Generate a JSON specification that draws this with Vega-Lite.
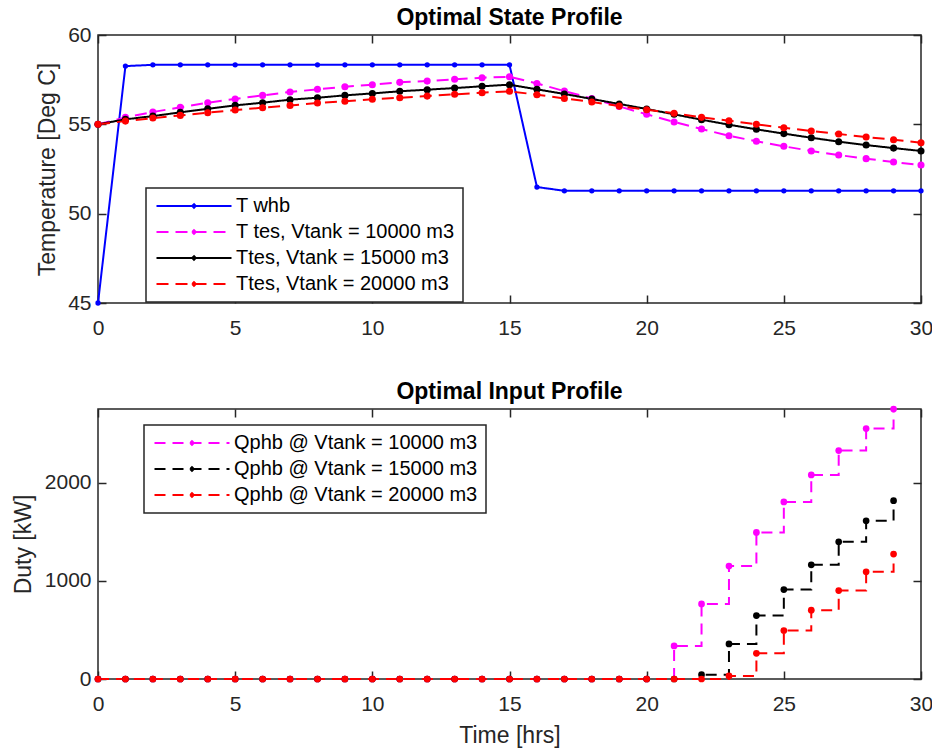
{
  "$schema": "https://vega.github.io/schema/vega-lite/v6.json",
  "background": "white",
  "padding": {"left": 11, "top": 6, "right": 10, "bottom": 5},
  "spacing": 41,
  "resolve": {"scale": {"color": "independent", "strokeDash": "independent"}, "legend": {"color": "independent", "strokeDash": "independent"}},
  "datasets": {
    "state": [
      {"t":0,"s":"T whb","T":45},{"t":1,"s":"T whb","T":58.26},{"t":2,"s":"T whb","T":58.33},{"t":3,"s":"T whb","T":58.33},{"t":4,"s":"T whb","T":58.33},{"t":5,"s":"T whb","T":58.33},{"t":6,"s":"T whb","T":58.33},{"t":7,"s":"T whb","T":58.33},{"t":8,"s":"T whb","T":58.33},{"t":9,"s":"T whb","T":58.33},{"t":10,"s":"T whb","T":58.33},{"t":11,"s":"T whb","T":58.33},{"t":12,"s":"T whb","T":58.33},{"t":13,"s":"T whb","T":58.33},{"t":14,"s":"T whb","T":58.33},{"t":15,"s":"T whb","T":58.33},{"t":16,"s":"T whb","T":51.49},{"t":17,"s":"T whb","T":51.28},{"t":18,"s":"T whb","T":51.28},{"t":19,"s":"T whb","T":51.28},{"t":20,"s":"T whb","T":51.28},{"t":21,"s":"T whb","T":51.28},{"t":22,"s":"T whb","T":51.28},{"t":23,"s":"T whb","T":51.28},{"t":24,"s":"T whb","T":51.28},{"t":25,"s":"T whb","T":51.28},{"t":26,"s":"T whb","T":51.28},{"t":27,"s":"T whb","T":51.28},{"t":28,"s":"T whb","T":51.28},{"t":29,"s":"T whb","T":51.28},{"t":30,"s":"T whb","T":51.28},
      {"t":0,"s":"T tes, Vtank = 10000 m3","T":55},{"t":1,"s":"T tes, Vtank = 10000 m3","T":55.39},{"t":2,"s":"T tes, Vtank = 10000 m3","T":55.69},{"t":3,"s":"T tes, Vtank = 10000 m3","T":55.95},{"t":4,"s":"T tes, Vtank = 10000 m3","T":56.21},{"t":5,"s":"T tes, Vtank = 10000 m3","T":56.42},{"t":6,"s":"T tes, Vtank = 10000 m3","T":56.62},{"t":7,"s":"T tes, Vtank = 10000 m3","T":56.81},{"t":8,"s":"T tes, Vtank = 10000 m3","T":56.96},{"t":9,"s":"T tes, Vtank = 10000 m3","T":57.1},{"t":10,"s":"T tes, Vtank = 10000 m3","T":57.22},{"t":11,"s":"T tes, Vtank = 10000 m3","T":57.35},{"t":12,"s":"T tes, Vtank = 10000 m3","T":57.42},{"t":13,"s":"T tes, Vtank = 10000 m3","T":57.52},{"t":14,"s":"T tes, Vtank = 10000 m3","T":57.61},{"t":15,"s":"T tes, Vtank = 10000 m3","T":57.66},{"t":16,"s":"T tes, Vtank = 10000 m3","T":57.29},{"t":17,"s":"T tes, Vtank = 10000 m3","T":56.86},{"t":18,"s":"T tes, Vtank = 10000 m3","T":56.45},{"t":19,"s":"T tes, Vtank = 10000 m3","T":56.0},{"t":20,"s":"T tes, Vtank = 10000 m3","T":55.56},{"t":21,"s":"T tes, Vtank = 10000 m3","T":55.13},{"t":22,"s":"T tes, Vtank = 10000 m3","T":54.74},{"t":23,"s":"T tes, Vtank = 10000 m3","T":54.36},{"t":24,"s":"T tes, Vtank = 10000 m3","T":54.05},{"t":25,"s":"T tes, Vtank = 10000 m3","T":53.77},{"t":26,"s":"T tes, Vtank = 10000 m3","T":53.51},{"t":27,"s":"T tes, Vtank = 10000 m3","T":53.28},{"t":28,"s":"T tes, Vtank = 10000 m3","T":53.08},{"t":29,"s":"T tes, Vtank = 10000 m3","T":52.89},{"t":30,"s":"T tes, Vtank = 10000 m3","T":52.72},
      {"t":0,"s":"Ttes, Vtank = 15000 m3","T":55},{"t":1,"s":"Ttes, Vtank = 15000 m3","T":55.28},{"t":2,"s":"Ttes, Vtank = 15000 m3","T":55.46},{"t":3,"s":"Ttes, Vtank = 15000 m3","T":55.67},{"t":4,"s":"Ttes, Vtank = 15000 m3","T":55.87},{"t":5,"s":"Ttes, Vtank = 15000 m3","T":56.06},{"t":6,"s":"Ttes, Vtank = 15000 m3","T":56.21},{"t":7,"s":"Ttes, Vtank = 15000 m3","T":56.38},{"t":8,"s":"Ttes, Vtank = 15000 m3","T":56.49},{"t":9,"s":"Ttes, Vtank = 15000 m3","T":56.62},{"t":10,"s":"Ttes, Vtank = 15000 m3","T":56.73},{"t":11,"s":"Ttes, Vtank = 15000 m3","T":56.85},{"t":12,"s":"Ttes, Vtank = 15000 m3","T":56.94},{"t":13,"s":"Ttes, Vtank = 15000 m3","T":57.03},{"t":14,"s":"Ttes, Vtank = 15000 m3","T":57.13},{"t":15,"s":"Ttes, Vtank = 15000 m3","T":57.22},{"t":16,"s":"Ttes, Vtank = 15000 m3","T":56.96},{"t":17,"s":"Ttes, Vtank = 15000 m3","T":56.7},{"t":18,"s":"Ttes, Vtank = 15000 m3","T":56.42},{"t":19,"s":"Ttes, Vtank = 15000 m3","T":56.14},{"t":20,"s":"Ttes, Vtank = 15000 m3","T":55.86},{"t":21,"s":"Ttes, Vtank = 15000 m3","T":55.56},{"t":22,"s":"Ttes, Vtank = 15000 m3","T":55.26},{"t":23,"s":"Ttes, Vtank = 15000 m3","T":54.98},{"t":24,"s":"Ttes, Vtank = 15000 m3","T":54.72},{"t":25,"s":"Ttes, Vtank = 15000 m3","T":54.48},{"t":26,"s":"Ttes, Vtank = 15000 m3","T":54.25},{"t":27,"s":"Ttes, Vtank = 15000 m3","T":54.03},{"t":28,"s":"Ttes, Vtank = 15000 m3","T":53.84},{"t":29,"s":"Ttes, Vtank = 15000 m3","T":53.67},{"t":30,"s":"Ttes, Vtank = 15000 m3","T":53.51},
      {"t":0,"s":"Ttes, Vtank = 20000 m3","T":55},{"t":1,"s":"Ttes, Vtank = 20000 m3","T":55.18},{"t":2,"s":"Ttes, Vtank = 20000 m3","T":55.35},{"t":3,"s":"Ttes, Vtank = 20000 m3","T":55.5},{"t":4,"s":"Ttes, Vtank = 20000 m3","T":55.65},{"t":5,"s":"Ttes, Vtank = 20000 m3","T":55.8},{"t":6,"s":"Ttes, Vtank = 20000 m3","T":55.93},{"t":7,"s":"Ttes, Vtank = 20000 m3","T":56.06},{"t":8,"s":"Ttes, Vtank = 20000 m3","T":56.19},{"t":9,"s":"Ttes, Vtank = 20000 m3","T":56.29},{"t":10,"s":"Ttes, Vtank = 20000 m3","T":56.4},{"t":11,"s":"Ttes, Vtank = 20000 m3","T":56.49},{"t":12,"s":"Ttes, Vtank = 20000 m3","T":56.58},{"t":13,"s":"Ttes, Vtank = 20000 m3","T":56.68},{"t":14,"s":"Ttes, Vtank = 20000 m3","T":56.77},{"t":15,"s":"Ttes, Vtank = 20000 m3","T":56.85},{"t":16,"s":"Ttes, Vtank = 20000 m3","T":56.66},{"t":17,"s":"Ttes, Vtank = 20000 m3","T":56.45},{"t":18,"s":"Ttes, Vtank = 20000 m3","T":56.25},{"t":19,"s":"Ttes, Vtank = 20000 m3","T":56.02},{"t":20,"s":"Ttes, Vtank = 20000 m3","T":55.82},{"t":21,"s":"Ttes, Vtank = 20000 m3","T":55.62},{"t":22,"s":"Ttes, Vtank = 20000 m3","T":55.39},{"t":23,"s":"Ttes, Vtank = 20000 m3","T":55.2},{"t":24,"s":"Ttes, Vtank = 20000 m3","T":55.0},{"t":25,"s":"Ttes, Vtank = 20000 m3","T":54.81},{"t":26,"s":"Ttes, Vtank = 20000 m3","T":54.63},{"t":27,"s":"Ttes, Vtank = 20000 m3","T":54.46},{"t":28,"s":"Ttes, Vtank = 20000 m3","T":54.29},{"t":29,"s":"Ttes, Vtank = 20000 m3","T":54.14},{"t":30,"s":"Ttes, Vtank = 20000 m3","T":53.97}
    ],
    "input": [
      {"t":0,"s":"Qphb @ Vtank = 10000 m3","Q":0},{"t":1,"s":"Qphb @ Vtank = 10000 m3","Q":0},{"t":2,"s":"Qphb @ Vtank = 10000 m3","Q":0},{"t":3,"s":"Qphb @ Vtank = 10000 m3","Q":0},{"t":4,"s":"Qphb @ Vtank = 10000 m3","Q":0},{"t":5,"s":"Qphb @ Vtank = 10000 m3","Q":0},{"t":6,"s":"Qphb @ Vtank = 10000 m3","Q":0},{"t":7,"s":"Qphb @ Vtank = 10000 m3","Q":0},{"t":8,"s":"Qphb @ Vtank = 10000 m3","Q":0},{"t":9,"s":"Qphb @ Vtank = 10000 m3","Q":0},{"t":10,"s":"Qphb @ Vtank = 10000 m3","Q":0},{"t":11,"s":"Qphb @ Vtank = 10000 m3","Q":0},{"t":12,"s":"Qphb @ Vtank = 10000 m3","Q":0},{"t":13,"s":"Qphb @ Vtank = 10000 m3","Q":0},{"t":14,"s":"Qphb @ Vtank = 10000 m3","Q":0},{"t":15,"s":"Qphb @ Vtank = 10000 m3","Q":0},{"t":16,"s":"Qphb @ Vtank = 10000 m3","Q":0},{"t":17,"s":"Qphb @ Vtank = 10000 m3","Q":0},{"t":18,"s":"Qphb @ Vtank = 10000 m3","Q":0},{"t":19,"s":"Qphb @ Vtank = 10000 m3","Q":0},{"t":20,"s":"Qphb @ Vtank = 10000 m3","Q":0},{"t":21,"s":"Qphb @ Vtank = 10000 m3","Q":337},{"t":22,"s":"Qphb @ Vtank = 10000 m3","Q":765},{"t":23,"s":"Qphb @ Vtank = 10000 m3","Q":1150},{"t":24,"s":"Qphb @ Vtank = 10000 m3","Q":1493},{"t":25,"s":"Qphb @ Vtank = 10000 m3","Q":1803},{"t":26,"s":"Qphb @ Vtank = 10000 m3","Q":2078},{"t":27,"s":"Qphb @ Vtank = 10000 m3","Q":2327},{"t":28,"s":"Qphb @ Vtank = 10000 m3","Q":2551},{"t":29,"s":"Qphb @ Vtank = 10000 m3","Q":2750},
      {"t":0,"s":"Qphb @ Vtank = 15000 m3","Q":0},{"t":1,"s":"Qphb @ Vtank = 15000 m3","Q":0},{"t":2,"s":"Qphb @ Vtank = 15000 m3","Q":0},{"t":3,"s":"Qphb @ Vtank = 15000 m3","Q":0},{"t":4,"s":"Qphb @ Vtank = 15000 m3","Q":0},{"t":5,"s":"Qphb @ Vtank = 15000 m3","Q":0},{"t":6,"s":"Qphb @ Vtank = 15000 m3","Q":0},{"t":7,"s":"Qphb @ Vtank = 15000 m3","Q":0},{"t":8,"s":"Qphb @ Vtank = 15000 m3","Q":0},{"t":9,"s":"Qphb @ Vtank = 15000 m3","Q":0},{"t":10,"s":"Qphb @ Vtank = 15000 m3","Q":0},{"t":11,"s":"Qphb @ Vtank = 15000 m3","Q":0},{"t":12,"s":"Qphb @ Vtank = 15000 m3","Q":0},{"t":13,"s":"Qphb @ Vtank = 15000 m3","Q":0},{"t":14,"s":"Qphb @ Vtank = 15000 m3","Q":0},{"t":15,"s":"Qphb @ Vtank = 15000 m3","Q":0},{"t":16,"s":"Qphb @ Vtank = 15000 m3","Q":0},{"t":17,"s":"Qphb @ Vtank = 15000 m3","Q":0},{"t":18,"s":"Qphb @ Vtank = 15000 m3","Q":0},{"t":19,"s":"Qphb @ Vtank = 15000 m3","Q":0},{"t":20,"s":"Qphb @ Vtank = 15000 m3","Q":0},{"t":21,"s":"Qphb @ Vtank = 15000 m3","Q":0},{"t":22,"s":"Qphb @ Vtank = 15000 m3","Q":44},{"t":23,"s":"Qphb @ Vtank = 15000 m3","Q":357},{"t":24,"s":"Qphb @ Vtank = 15000 m3","Q":646},{"t":25,"s":"Qphb @ Vtank = 15000 m3","Q":911},{"t":26,"s":"Qphb @ Vtank = 15000 m3","Q":1163},{"t":27,"s":"Qphb @ Vtank = 15000 m3","Q":1398},{"t":28,"s":"Qphb @ Vtank = 15000 m3","Q":1612},{"t":29,"s":"Qphb @ Vtank = 15000 m3","Q":1816},
      {"t":0,"s":"Qphb @ Vtank = 20000 m3","Q":0},{"t":1,"s":"Qphb @ Vtank = 20000 m3","Q":0},{"t":2,"s":"Qphb @ Vtank = 20000 m3","Q":0},{"t":3,"s":"Qphb @ Vtank = 20000 m3","Q":0},{"t":4,"s":"Qphb @ Vtank = 20000 m3","Q":0},{"t":5,"s":"Qphb @ Vtank = 20000 m3","Q":0},{"t":6,"s":"Qphb @ Vtank = 20000 m3","Q":0},{"t":7,"s":"Qphb @ Vtank = 20000 m3","Q":0},{"t":8,"s":"Qphb @ Vtank = 20000 m3","Q":0},{"t":9,"s":"Qphb @ Vtank = 20000 m3","Q":0},{"t":10,"s":"Qphb @ Vtank = 20000 m3","Q":0},{"t":11,"s":"Qphb @ Vtank = 20000 m3","Q":0},{"t":12,"s":"Qphb @ Vtank = 20000 m3","Q":0},{"t":13,"s":"Qphb @ Vtank = 20000 m3","Q":0},{"t":14,"s":"Qphb @ Vtank = 20000 m3","Q":0},{"t":15,"s":"Qphb @ Vtank = 20000 m3","Q":0},{"t":16,"s":"Qphb @ Vtank = 20000 m3","Q":0},{"t":17,"s":"Qphb @ Vtank = 20000 m3","Q":0},{"t":18,"s":"Qphb @ Vtank = 20000 m3","Q":0},{"t":19,"s":"Qphb @ Vtank = 20000 m3","Q":0},{"t":20,"s":"Qphb @ Vtank = 20000 m3","Q":0},{"t":21,"s":"Qphb @ Vtank = 20000 m3","Q":0},{"t":22,"s":"Qphb @ Vtank = 20000 m3","Q":0},{"t":23,"s":"Qphb @ Vtank = 20000 m3","Q":31},{"t":24,"s":"Qphb @ Vtank = 20000 m3","Q":262},{"t":25,"s":"Qphb @ Vtank = 20000 m3","Q":493},{"t":26,"s":"Qphb @ Vtank = 20000 m3","Q":701},{"t":27,"s":"Qphb @ Vtank = 20000 m3","Q":901},{"t":28,"s":"Qphb @ Vtank = 20000 m3","Q":1092},{"t":29,"s":"Qphb @ Vtank = 20000 m3","Q":1272}
    ]
  },
  "config": {
    "font": "Liberation Sans",
    "view": {"stroke": "#262626", "strokeWidth": 1.5},
    "axis": {
      "grid": false, "domain": false,
      "tickColor": "#262626", "tickWidth": 1.5, "tickSize": -8,
      "labelFont": "Liberation Sans", "labelFontSize": 21, "labelColor": "#262626",
      "titleFont": "Liberation Sans", "titleFontSize": 23, "titleFontWeight": "normal", "titleColor": "#262626"
    },
    "title": {"font": "Liberation Sans", "fontSize": 23, "fontWeight": "bold", "color": "#000000", "frame": "group", "anchor": "middle"},
    "legend": {
      "labelFont": "Liberation Sans", "labelFontSize": 20, "labelColor": "#000000",
      "fillColor": "white", "strokeColor": "#262626", "strokeWidth": 1.5,
      "padding": 8, "rowPadding": 6, "labelOffset": 32, "symbolOffset": 30, "labelLimit": 400
    }
  },
  "vconcat": [
    {
      "width": 823, "height": 268,
      "title": {"text": "Optimal State Profile", "offset": -6},
      "data": {"name": "state"},
      "resolve": {"axis": {"x": "independent", "y": "independent"}},
      "layer": [
        {
          "mark": {"type": "line", "strokeWidth": 2},
          "encoding": {
            "x": {"field": "t", "type": "quantitative", "scale": {"domain": [0, 30], "nice": false},
                  "axis": {"orient": "bottom", "values": [0,5,10,15,20,25,30], "title": null, "labelFlush": false, "labelPadding": 22}},
            "y": {"field": "T", "type": "quantitative", "scale": {"domain": [45, 60], "nice": false, "zero": false},
                  "axis": {"orient": "left", "values": [45,50,55,60], "title": "Temperature [Deg C]", "labelPadding": 15, "titlePadding": 8}},
            "color": {"field": "s", "type": "nominal",
                      "scale": {"domain": ["T whb","T tes, Vtank = 10000 m3","Ttes, Vtank = 15000 m3","Ttes, Vtank = 20000 m3"], "range": ["#0000ff","#ff00ff","#000000","#ff0000"]},
                      "legend": {"title": null, "orient": "none", "legendX": 48, "legendY": 153,
                                 "symbolType": "M-5,0H5M-0.24,0L0,-0.24L0.24,0L0,0.24Z", "symbolSize": 225, "symbolStrokeWidth": 2}},
            "strokeDash": {"field": "s", "type": "nominal",
                      "scale": {"domain": ["T whb","T tes, Vtank = 10000 m3","Ttes, Vtank = 15000 m3","Ttes, Vtank = 20000 m3"], "range": [[1,0],[12,7],[1,0],[12,7]]},
                      "legend": {"title": null, "orient": "none", "legendX": 48, "legendY": 153,
                                 "symbolType": "M-5,0H5M-0.24,0L0,-0.24L0.24,0L0,0.24Z", "symbolSize": 225, "symbolStrokeWidth": 2}}
          }
        },
        {
          "mark": {"type": "point", "filled": true, "opacity": 1},
          "encoding": {
            "x": {"field": "t", "type": "quantitative", "scale": {"domain": [0, 30], "nice": false},
                  "axis": {"orient": "top", "values": [0,5,10,15,20,25,30], "title": null, "labels": false}},
            "y": {"field": "T", "type": "quantitative", "scale": {"domain": [45, 60], "nice": false, "zero": false},
                  "axis": {"orient": "right", "values": [45,50,55,60], "title": null, "labels": false}},
            "color": {"field": "s", "type": "nominal", "legend": null},
            "size": {"condition": {"test": "datum.s === 'T whb'", "value": 28}, "value": 50}
          }
        }
      ]
    },
    {
      "width": 823, "height": 270,
      "title": {"text": "Optimal Input Profile", "offset": 1},
      "data": {"name": "input"},
      "resolve": {"axis": {"x": "independent", "y": "independent"}},
      "layer": [
        {
          "mark": {"type": "line", "strokeWidth": 2, "interpolate": "step-after", "strokeDash": [11, 7]},
          "encoding": {
            "x": {"field": "t", "type": "quantitative", "scale": {"domain": [0, 30], "nice": false},
                  "axis": {"orient": "bottom", "values": [0,5,10,15,20,25,30], "title": "Time [hrs]", "labelFlush": false, "labelPadding": 22, "titlePadding": 10}},
            "y": {"field": "Q", "type": "quantitative", "scale": {"domain": [0, 2750], "nice": false},
                  "axis": {"orient": "left", "values": [0,1000,2000], "format": "d", "title": "Duty [kW]", "labelPadding": 15, "titlePadding": 9}},
            "color": {"field": "s", "type": "nominal",
                      "scale": {"domain": ["Qphb @ Vtank = 10000 m3","Qphb @ Vtank = 15000 m3","Qphb @ Vtank = 20000 m3"], "range": ["#ff00ff","#000000","#ff0000"]},
                      "legend": {"title": null, "orient": "none", "legendX": 46, "legendY": 16,
                                 "symbolType": "M-5,0H5M-0.24,0L0,-0.24L0.24,0L0,0.24Z", "symbolSize": 225, "symbolStrokeWidth": 2, "symbolDash": [11, 7]}}
          }
        },
        {
          "mark": {"type": "point", "filled": true, "opacity": 1, "size": 45},
          "encoding": {
            "x": {"field": "t", "type": "quantitative", "scale": {"domain": [0, 30], "nice": false},
                  "axis": {"orient": "top", "values": [0,5,10,15,20,25,30], "title": null, "labels": false}},
            "y": {"field": "Q", "type": "quantitative", "scale": {"domain": [0, 2750], "nice": false},
                  "axis": {"orient": "right", "values": [0,1000,2000], "title": null, "labels": false}},
            "color": {"field": "s", "type": "nominal", "legend": null}
          }
        }
      ]
    }
  ]
}
